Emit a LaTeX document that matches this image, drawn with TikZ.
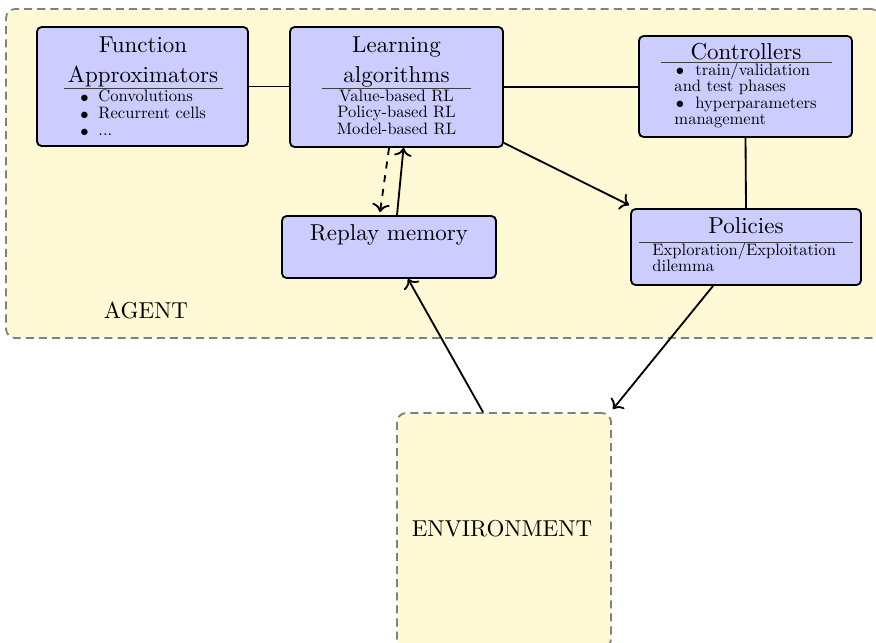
\documentclass[tikz,border=0pt]{standalone}
\usepackage{graphicx}
\usetikzlibrary{fit,calc,arrows.meta}
\definecolor{boxfill}{RGB}{204,204,255}
\definecolor{agentfill}{RGB}{255,249,213}
\newcommand\smtxt[1]{\scalebox{0.72}{#1}}
\begin{document}
\begin{tikzpicture}[x=0.435pt,y=-0.435pt,
  box/.style={draw, thick, fill=boxfill, rounded corners=2pt, inner sep=0pt},
  area/.style={draw=black!50, thick, dash pattern=on 3.5pt off 2.2pt, fill=agentfill, rounded corners=4pt, inner sep=0pt},
  lbl/.style={inner sep=0pt},
  title/.style={lbl, anchor=base},
  item/.style={lbl, anchor=base west},
  citem/.style={lbl, anchor=base},
  bul/.style={lbl},
  sep/.style={draw=black!75, line width=0.6pt},
  conn/.style={thick},
  arr/.style={thick, -{To[length=3.6pt,width=7.6pt]}}]
\useasboundingbox (0,0) rectangle (876,642);
% areas
\node[area, fit={(6,9) (880,338)}] (agent) {};
\node[area, fit={(397,413) (611,648)}] (env) {};
\node[lbl, anchor=base] (agentT) at (146,318) {AGENT};
\node[lbl, anchor=base] (envT) at (502,536) {ENVIRONMENT};
% boxes
\node[box, fit={(37,27) (248,146)}] (fa) {};
\node[box, fit={(290,27) (503,147)}] (la) {};
\node[box, fit={(639,36) (852,137)}] (ctrl) {};
\node[box, fit={(282,216) (496,278)}] (rm) {};
\node[box, fit={(631,209) (861,285)}] (pol) {};
% Function approximators
\node[title] (faT1) at (143,52) {Function};
\node[title] (faT2) at (143,82) {Approximators};
\draw[sep] (64,88.3) -- (223,88.3);
\node[bul] (faB1) at (84.5,98.5) {\smtxt{$\bullet$}};
\node[item] (faI1) at (98,101) {\smtxt{Convolutions}};
\node[bul] (faB2) at (84.5,115.5) {\smtxt{$\bullet$}};
\node[item] (faI2) at (98,118) {\smtxt{Recurrent cells}};
\node[bul] (faB3) at (84.5,132.5) {\smtxt{$\bullet$}};
\node[item] (faI3) at (98,135) {\smtxt{...}};
% Learning algorithms
\node[title] (laT1) at (396.5,52) {Learning};
\node[title] (laT2) at (396.5,82) {algorithms};
\draw[sep] (322,88.3) -- (471,88.3);
\node[citem] (laI1) at (396.5,101) {\smtxt{Value-based RL}};
\node[citem] (laI2) at (396.5,117.5) {\smtxt{Policy-based RL}};
\node[citem] (laI3) at (396.5,134) {\smtxt{Model-based RL}};
% Controllers
\node[title] (ctT) at (746,59) {Controllers};
\draw[sep] (661,62.3) -- (832,62.3);
\node[bul] (ctB1) at (680,71.5) {\smtxt{$\bullet$}};
\node[item] (ctI1) at (695,75) {\smtxt{train/validation}};
\node[item] (ctI2) at (674,91.5) {\smtxt{and test phases}};
\node[bul] (ctB2) at (680,104.5) {\smtxt{$\bullet$}};
\node[item] (ctI3) at (695,108) {\smtxt{hyperparameters}};
\node[item] (ctI4) at (674,124.5) {\smtxt{management}};
% Replay memory
\node[title] (rmT) at (389,240) {Replay memory};
% Policies
\node[title] (poT) at (746,233) {Policies};
\draw[sep] (639,242.7) -- (853,242.7);
\node[item] (poI1) at (652,255) {\smtxt{Exploration/Exploitation}};
\node[item] (poI2) at (652,271.5) {\smtxt{dilemma}};
% connectors
\draw[conn] (fa.east) -- (fa.east -| la.west);
\draw[conn] (la.east) -- (la.east -| ctrl.west);
\draw[conn] (ctrl.south) -- (pol.north);
\draw[arr] ($(la.south east)+(0,-5)$) -- ($(pol.north west)+(-1,-3)$);
\draw[arr, dashed] ($(la.south)+(-7.5,0)$) -- ($(rm.north)+(-9,-3)$);
\draw[arr] ($(rm.north)+(8,0)$) -- ($(la.south)+(7,0)$);
\draw[arr] ($(env.north)+(-21,0)$) -- ($(rm.south)+(19,0)$);
\draw[arr] ($(pol.south)+(-33,0)$) -- ($(env.north east)+(1,-3)$);
\end{tikzpicture}
\end{document}
